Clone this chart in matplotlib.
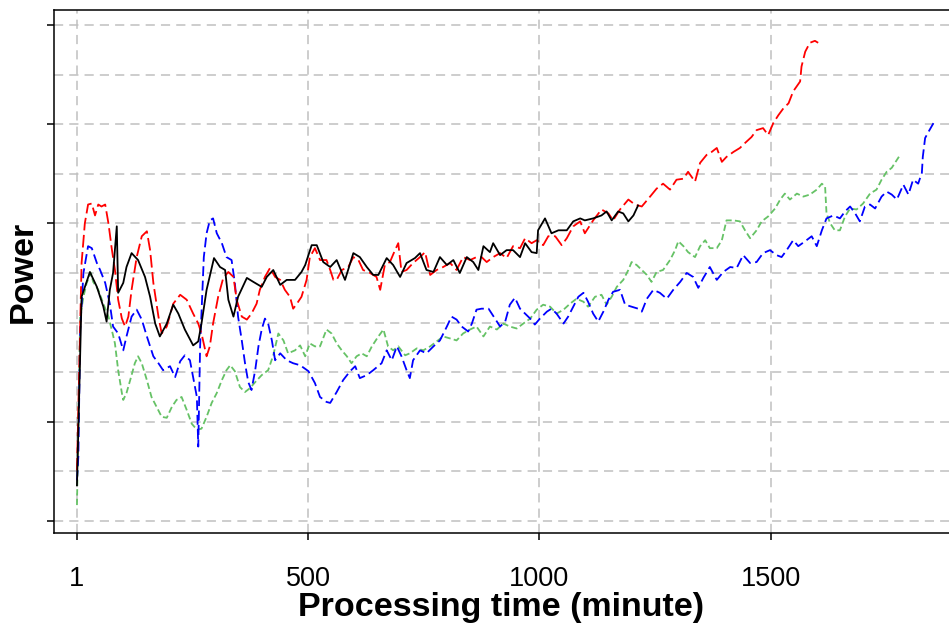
import matplotlib.pyplot as plt
from matplotlib.ticker import MultipleLocator

plt.rcParams['font.family'] = ['Liberation Sans', 'DejaVu Sans']

# processing time (minute) and power for each run
t_black = [1, 11, 29, 44, 58, 65, 72, 79, 87, 90, 101, 108, 119, 133, 148, 159, 170, 180, 195, 209,
           220, 234, 252, 263, 270, 281, 297, 310, 321, 328, 339, 349, 368, 382, 400, 411, 425, 440,
           454, 472, 486, 494, 508, 519, 533, 548, 562, 580, 598, 612, 627, 641, 652, 670, 684, 699,
           713, 731, 742, 756, 771, 785, 800, 814, 828, 843, 857, 868, 879, 893, 900, 915, 929, 943,
           958, 969, 983, 994, 997, 1012, 1026, 1041, 1059, 1073, 1088, 1098, 1116, 1134, 1145,
           1156, 1170, 1181, 1192, 1203, 1213]
p_black = [0.36, 2.26, 2.51, 2.36, 2.16, 2.01, 2.33, 2.50, 2.97, 2.30, 2.40, 2.56, 2.70, 2.63, 2.46,
           2.26, 1.99, 1.86, 1.99, 2.18, 2.09, 1.93, 1.77, 1.81, 1.99, 2.33, 2.65, 2.56, 2.53, 2.23,
           2.06, 2.26, 2.45, 2.41, 2.36, 2.46, 2.53, 2.38, 2.43, 2.43, 2.51, 2.58, 2.78, 2.78, 2.61,
           2.56, 2.63, 2.43, 2.70, 2.66, 2.56, 2.48, 2.48, 2.65, 2.58, 2.46, 2.60, 2.65, 2.70, 2.53,
           2.51, 2.66, 2.58, 2.63, 2.50, 2.66, 2.61, 2.53, 2.77, 2.71, 2.80, 2.68, 2.73, 2.73, 2.66,
           2.80, 2.71, 2.70, 2.93, 3.05, 2.90, 2.93, 2.93, 3.02, 3.05, 3.03, 3.05, 3.08, 3.12, 3.03,
           3.12, 3.10, 3.02, 3.08, 3.18]

t_red = [1, 11, 18, 25, 33, 40, 47, 54, 62, 69, 76, 83, 90, 98, 105, 112, 119, 130, 141, 152, 159,
         166, 177, 184, 195, 209, 224, 238, 252, 263, 270, 281, 288, 295, 306, 317, 328, 339, 346,
         357, 368, 378, 389, 396, 407, 418, 429, 440, 450, 461, 468, 476, 486, 497, 504, 515, 526,
         540, 548, 555, 562, 573, 587, 598, 609, 619, 634, 648, 656, 666, 677, 688, 695, 702, 713,
         727, 742, 753, 764, 778, 792, 807, 821, 835, 850, 864, 875, 886, 900, 915, 929, 943, 958,
         969, 983, 994, 1008, 1019, 1034, 1048, 1059, 1073, 1088, 1098, 1116, 1134, 1149, 1159,
         1174, 1192, 1206, 1221, 1239, 1253, 1267, 1282, 1296, 1311, 1321, 1336, 1347, 1361, 1372,
         1383, 1394, 1404, 1419, 1433, 1444, 1458, 1469, 1483, 1494, 1505, 1516, 1527, 1538, 1548,
         1563, 1566, 1574, 1584, 1595, 1602]
p_red = [0.51, 2.60, 3.00, 3.19, 3.20, 3.08, 3.19, 3.17, 3.19, 3.00, 2.75, 2.53, 2.23, 2.04, 1.96,
         2.06, 2.33, 2.66, 2.87, 2.92, 2.73, 2.40, 2.06, 1.89, 1.96, 2.19, 2.28, 2.23, 2.09, 1.99,
         1.89, 1.66, 1.76, 1.99, 2.26, 2.45, 2.51, 2.46, 2.23, 2.06, 2.03, 2.09, 2.19, 2.33, 2.46,
         2.55, 2.46, 2.43, 2.33, 2.26, 2.14, 2.19, 2.26, 2.43, 2.66, 2.75, 2.63, 2.63, 2.53, 2.43,
         2.43, 2.53, 2.56, 2.66, 2.63, 2.53, 2.50, 2.46, 2.33, 2.58, 2.61, 2.73, 2.80, 2.51, 2.53,
         2.60, 2.66, 2.71, 2.48, 2.53, 2.56, 2.60, 2.53, 2.66, 2.63, 2.66, 2.66, 2.61, 2.66, 2.70,
         2.65, 2.77, 2.75, 2.85, 2.80, 2.83, 2.78, 2.87, 2.87, 2.78, 2.85, 2.97, 3.02, 2.90, 3.03,
         3.14, 3.10, 3.03, 3.14, 3.24, 3.19, 3.17, 3.27, 3.35, 3.40, 3.34, 3.44, 3.45, 3.52, 3.42,
         3.61, 3.69, 3.72, 3.76, 3.62, 3.67, 3.72, 3.76, 3.81, 3.87, 3.94, 3.96, 3.89, 4.01, 4.09,
         4.16, 4.21, 4.33, 4.43, 4.58, 4.73, 4.82, 4.84, 4.82]

t_blue = [1, 4, 8, 15, 25, 33, 44, 51, 62, 72, 79, 90, 101, 108, 119, 130, 141, 152, 166, 177, 187,
          202, 213, 224, 234, 245, 252, 260, 263, 267, 270, 275, 281, 288, 295, 303, 314, 324, 335,
          342, 349, 357, 364, 371, 378, 386, 393, 400, 407, 414, 422, 429, 440, 454, 468, 483, 501,
          515, 526, 540, 548, 562, 576, 591, 602, 612, 627, 641, 659, 670, 681, 692, 702, 713, 720,
          727, 742, 756, 771, 785, 800, 810, 821, 832, 846, 854, 864, 875, 890, 904, 915, 926, 936,
          947, 958, 969, 980, 990, 1001, 1016, 1026, 1037, 1052, 1062, 1073, 1084, 1095, 1105, 1116,
          1127, 1138, 1149, 1159, 1174, 1185, 1199, 1213, 1221, 1232, 1246, 1260, 1275, 1289, 1304,
          1318, 1332, 1343, 1354, 1368, 1383, 1397, 1412, 1426, 1440, 1455, 1469, 1483, 1498, 1512,
          1523, 1534, 1548, 1559, 1574, 1588, 1599, 1610, 1620, 1635, 1649, 1660, 1671, 1682, 1692,
          1703, 1714, 1725, 1739, 1750, 1761, 1772, 1786, 1797, 1807, 1818, 1826, 1828, 1833, 1840,
          1851]
p_blue = [0.41, 0.65, 1.93, 2.50, 2.77, 2.75, 2.60, 2.53, 2.40, 2.19, 1.96, 1.89, 1.72, 1.86, 2.06,
          2.13, 2.03, 1.86, 1.66, 1.59, 1.52, 1.56, 1.45, 1.61, 1.67, 1.62, 1.45, 1.25, 0.75, 1.76,
          2.09, 2.66, 2.90, 3.03, 3.05, 2.90, 2.80, 2.66, 2.63, 2.40, 2.06, 1.82, 1.59, 1.40, 1.32,
          1.52, 1.76, 1.93, 2.04, 1.99, 1.82, 1.62, 1.69, 1.62, 1.59, 1.57, 1.51, 1.39, 1.25, 1.20,
          1.19, 1.30, 1.42, 1.51, 1.56, 1.44, 1.47, 1.52, 1.59, 1.72, 1.62, 1.76, 1.66, 1.52, 1.44,
          1.62, 1.72, 1.69, 1.76, 1.82, 1.96, 2.06, 2.03, 1.96, 1.91, 1.99, 2.13, 2.14, 2.14, 2.04,
          1.96, 2.01, 2.18, 2.25, 2.14, 2.09, 2.04, 1.98, 2.04, 2.11, 2.14, 2.09, 1.99, 2.06, 2.16,
          2.26, 2.30, 2.21, 2.09, 2.01, 2.11, 2.23, 2.31, 2.33, 2.18, 2.16, 2.14, 2.11, 2.24, 2.33,
          2.30, 2.24, 2.33, 2.41, 2.50, 2.46, 2.35, 2.45, 2.56, 2.43, 2.51, 2.56, 2.55, 2.68, 2.60,
          2.61, 2.70, 2.73, 2.68, 2.66, 2.73, 2.83, 2.77, 2.82, 2.87, 2.77, 2.93, 3.05, 3.08, 3.05,
          3.12, 3.17, 3.10, 3.02, 3.17, 3.19, 3.15, 3.27, 3.32, 3.29, 3.24, 3.39, 3.29, 3.44, 3.40,
          3.51, 3.67, 3.86, 3.92, 4.01]

t_green = [1, 8, 15, 22, 31, 36, 47, 58, 69, 76, 83, 90, 98, 101, 108, 116, 126, 133, 141, 152, 162,
           173, 184, 195, 206, 216, 227, 238, 249, 260, 270, 281, 292, 303, 314, 324, 332, 342, 353,
           364, 375, 386, 400, 414, 425, 436, 447, 457, 472, 483, 494, 504, 515, 526, 540, 551, 562,
           573, 584, 594, 605, 616, 627, 638, 652, 663, 673, 684, 695, 710, 720, 735, 749, 764, 778,
           792, 807, 821, 835, 850, 864, 879, 893, 908, 922, 936, 951, 965, 980, 994, 1008, 1023,
           1037, 1052, 1066, 1080, 1095, 1105, 1120, 1134, 1145, 1156, 1167, 1181, 1192, 1199, 1210,
           1221, 1232, 1242, 1253, 1267, 1282, 1293, 1300, 1311, 1321, 1336, 1347, 1358, 1368, 1383,
           1394, 1404, 1419, 1433, 1444, 1455, 1469, 1480, 1494, 1509, 1520, 1530, 1541, 1556, 1570,
           1584, 1599, 1610, 1617, 1620, 1628, 1638, 1649, 1660, 1671, 1685, 1699, 1714, 1728, 1739,
           1750, 1761, 1772, 1779]
p_green = [0.16, 2.06, 2.26, 2.40, 2.50, 2.41, 2.33, 2.19, 2.06, 1.93, 1.79, 1.52, 1.29, 1.22, 1.29,
           1.42, 1.59, 1.66, 1.59, 1.42, 1.25, 1.15, 1.05, 1.04, 1.15, 1.22, 1.25, 1.12, 0.98, 0.92,
           0.93, 1.05, 1.19, 1.29, 1.42, 1.52, 1.57, 1.51, 1.35, 1.30, 1.34, 1.40, 1.47, 1.52, 1.67,
           1.89, 1.82, 1.69, 1.72, 1.77, 1.66, 1.79, 1.76, 1.76, 1.93, 1.89, 1.79, 1.72, 1.66, 1.59,
           1.66, 1.69, 1.66, 1.76, 1.86, 1.93, 1.76, 1.72, 1.76, 1.67, 1.69, 1.74, 1.72, 1.76, 1.81,
           1.86, 1.84, 1.82, 1.89, 1.93, 1.96, 1.86, 1.96, 1.93, 1.99, 1.96, 1.94, 1.99, 2.04, 2.13,
           2.18, 2.16, 2.09, 2.13, 2.19, 2.24, 2.21, 2.16, 2.26, 2.28, 2.18, 2.26, 2.36, 2.43, 2.53,
           2.61, 2.58, 2.53, 2.48, 2.41, 2.51, 2.53, 2.63, 2.73, 2.82, 2.77, 2.71, 2.66, 2.77, 2.83,
           2.75, 2.75, 2.83, 3.03, 3.03, 3.02, 2.93, 2.85, 2.93, 3.02, 3.07, 3.15, 3.24, 3.30, 3.24,
           3.30, 3.27, 3.29, 3.34, 3.40, 3.37, 3.10, 3.00, 2.93, 2.93, 3.07, 3.15, 3.14, 3.20, 3.30,
           3.34, 3.44, 3.52, 3.56, 3.64, 3.69]

x_ticks = [1, 500, 1000, 1500]

fig = plt.figure(figsize=(9.49, 6.23), dpi=100)
ax = fig.add_axes([0.0569, 0.1445, 0.9431, 0.8395])

ax.plot(t_green, p_green, color='#66c266', lw=1.3, dashes=(3.5, 1.8))
ax.plot(t_blue, p_blue, color='#0000ff', lw=1.3, dashes=(5.5, 2.5))
ax.plot(t_red, p_red, color='#ff0000', lw=1.3, dashes=(7, 2.5))
ax.plot(t_black, p_black, color='black', lw=1.3)

ax.set_xlim(-48.6, 1884.6)
ax.set_ylim(-0.121, 5.151)

ax.set_xticks(x_ticks)
ax.set_xticklabels([str(v) for v in x_ticks])
ax.yaxis.set_major_locator(MultipleLocator(1))
ax.yaxis.set_minor_locator(MultipleLocator(0.5))

ax.grid(True, which='both', axis='y', color='#c0c0c0', lw=1.1, dashes=(6, 4))
ax.grid(True, which='major', axis='x', color='#c0c0c0', lw=1.1, dashes=(6, 4))
ax.set_axisbelow(True)

ax.tick_params(axis='both', which='major', direction='out', length=5, width=1.1)
ax.tick_params(axis='x', labelsize=19.5, pad=19)
ax.tick_params(axis='y', labelleft=False)
ax.tick_params(axis='y', which='minor', length=0)

ax.spines['right'].set_visible(False)
for side in ('left', 'bottom', 'top'):
    ax.spines[side].set_linewidth(1.1)

ax.set_xlabel('Processing time (minute)', fontsize=24.5, fontweight='bold', labelpad=0)
ax.set_ylabel('Power', fontsize=24.5, fontweight='bold')
ax.yaxis.set_label_coords(-0.017, 0.5)

fig.savefig('out.png', dpi=100)
